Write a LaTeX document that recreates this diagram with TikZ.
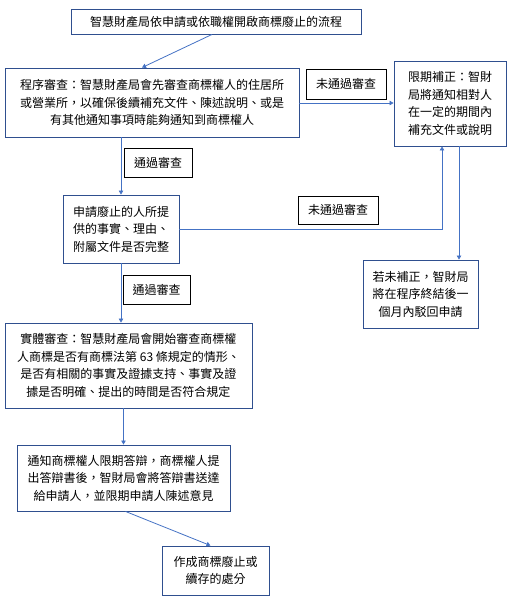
\documentclass[tikz,border=0pt]{standalone}
\usepackage{fontspec}
\setmainfont{Noto Sans CJK TC}
\usepackage{xcolor}
\usetikzlibrary{arrows.meta}
\definecolor{boxblue}{HTML}{2F4F8F}
\definecolor{lineblue}{HTML}{4472C4}

\begin{document}
\begin{tikzpicture}[x=1pt,y=-1pt,
	box/.style={draw=boxblue,line width=0.9pt,inner sep=0pt,font=\fontsize{12}{17.5}\selectfont},
	tag/.style={draw=black,line width=0.7pt,inner sep=0pt,font=\fontsize{12}{17}\selectfont},
	arr/.style={draw=lineblue,line width=0.8pt,-{Triangle[length=4pt,width=4.5pt]}}]
			\useasboundingbox (0,0) rectangle (518,600);
			
			% main steps
			
			\node[box,minimum width=290pt,minimum height=25pt] (title) at (216,21.5) {智慧財產局依申請或依職權開啟商標廢止的流程};
			\node[box,align=center,minimum width=294pt,minimum height=69pt] (check) at (152,102.5) {程序審查：智慧財產局會先審查商標權人的住居所\\或營業所，以確保後續補充文件、陳述說明、或是\\有其他通知事項時能夠通知到商標權人};
			\node[box,align=left,minimum width=112pt,minimum height=85pt] (fix) at (450,103.5) {限期補正：智財\\局將通知相對人\\在一定的期間內\\補充文件或說明};
			\node[box,align=left,minimum width=116pt,minimum height=68pt] (facts) at (121,229) {申請廢止的人所提\\供的事實、理由、\\附屬文件是否完整};
			\node[box,align=center,minimum width=115pt,minimum height=68pt] (reject) at (420.5,294) {若未補正，智財局\\將在程序終結後一\\個月內駁回申請};
			\node[box,align=center,minimum width=247pt,minimum height=85pt] (subst) at (128.5,365.5) {實體審查：智慧財產局會開始審查商標權\\人商標是否有商標法第 63 條規定的情形、\\是否有相關的事實及證據支持、事實及證\\據是否明確、提出的時間是否符合規定};
			\node[box,align=center,minimum width=213pt,minimum height=66pt] (notify) at (123.5,478) {通知商標權人限期答辯，商標權人提\\出答辯書後，智財局會將答辯書送達\\給申請人，並限期申請人陳述意見};
			\node[box,align=center,minimum width=107pt,minimum height=49pt] (decide) at (215.5,570.5) {作成商標廢止或\\續存的處分};
			
			% labels
			
			\node[tag,minimum width=80pt,minimum height=30pt] (fail1) at (346,84) {未通過審查};
			\node[tag,minimum width=68pt,minimum height=29pt] (pass1) at (158,162.5) {通過審查};
			\node[tag,minimum width=80pt,minimum height=28pt] (fail2) at (338,210) {未通過審查};
			\node[tag,minimum width=67pt,minimum height=29pt] (pass2) at (156.5,289.5) {通過審查};
			
			% connectors
			
			\draw[arr] ([xshift=-4pt]title.south) -- ([xshift=-10pt]check.north);
			\draw[arr] ([yshift=-0.5pt]check.east) -- ([yshift=-0.5pt]check.east -| fix.west);
			\draw[arr] (check.south -| facts.north) -- (facts.north);
			\draw[arr] (facts.east) -| ([xshift=-8pt]fix.south);
			\draw[arr] ([xshift=9pt]fix.south) -- ([xshift=9pt]fix.south |- reject.north);
			\draw[arr] (facts.south) -- (facts.south |- subst.north);
			\draw[arr] ([xshift=-5pt]subst.south) -- (notify.north);
			\draw[arr] ([xshift=2pt]notify.south) -- ([xshift=-5pt]decide.north);
			
		\end{tikzpicture}
\end{document}
